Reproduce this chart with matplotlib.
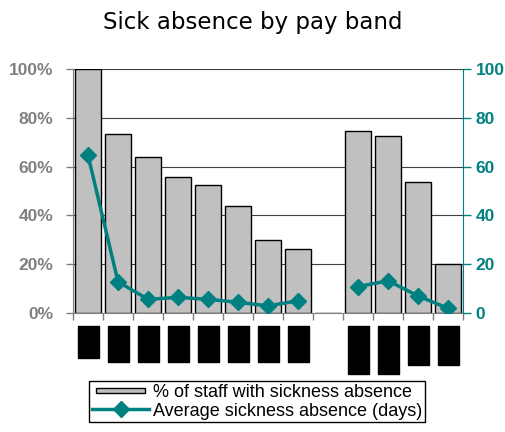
import numpy as np
import matplotlib.pyplot as plt
import matplotlib.transforms as mtransforms
from matplotlib.patches import Rectangle
from matplotlib.legend_handler import HandlerPatch

# valeurs (la 9e position est vide)
pct_staff = [100, 73.2, 64.1, 55.6, 52.3, 44.0, 30.0, 26.1, None, 74.7, 72.7, 53.7, 20.2]
avg_days = [64.6, 12.8, 5.6, 6.4, 5.6, 4.4, 2.9, 5.0, None, 10.8, 13.2, 7.0, 1.9]
# hauteur des etiquettes masquees (en fraction de l'axe)
label_heights = [0.131, 0.148, 0.148, 0.148, 0.148, 0.148, 0.148, 0.148, None, 0.197, 0.197, 0.16, 0.16]

left_ticks = [0, 20, 40, 60, 80, 100]
right_ticks = [0, 20, 40, 60, 80, 100]

teal = '#008080'
grey = '#808080'

x = np.arange(len(pct_staff))
pct = np.array([np.nan if v is None else v for v in pct_staff], dtype=float)
days = np.array([np.nan if v is None else v for v in avg_days], dtype=float)

fig = plt.figure(figsize=(5.05, 4.32), dpi=100)
ax = fig.add_axes([0.1446, 0.2755, 0.7723, 0.5648])

for y in left_ticks[1:]:
    ax.axhline(y, color='#404040', lw=0.8, zorder=0)

bars = ax.bar(x, np.nan_to_num(pct), width=0.85, color='#C0C0C0', edgecolor='black',
              linewidth=1.0, zorder=2, label='% of staff with sickness absence')

ax.set_xlim(-0.5, len(x) - 0.5)
ax.set_ylim(0, 100)
ax.set_yticks(left_ticks)
ax.set_yticklabels([f'{t}%' for t in left_ticks], fontsize=12.5, fontweight='bold',
                   color=grey, family='Liberation Sans')
ax.tick_params(axis='y', colors=grey, length=5, pad=9, width=1)
ax.set_xticks([])
ax.set_xticks(np.arange(-0.5, len(x)), minor=True)
ax.tick_params(axis='x', which='minor', length=5, color=grey, width=1)
for s in ['top', 'right']:
    ax.spines[s].set_visible(False)
ax.spines['left'].set_color(grey)
ax.spines['bottom'].set_color(grey)

ax2 = ax.twinx()
line, = ax2.plot(x, days, color=teal, lw=2.5, marker='D', markersize=8,
                 label='Average sickness absence (days)', zorder=3)
ax2.set_ylim(0, 100)
ax2.set_yticks(right_ticks)
ax2.set_yticklabels([str(t) for t in right_ticks], fontsize=12.5, fontweight='bold',
                    color=teal, family='Liberation Sans')
ax2.tick_params(axis='y', colors=teal, length=6, pad=3, width=1)
for s in ['top', 'left', 'bottom']:
    ax2.spines[s].set_visible(False)
ax2.spines['right'].set_color(teal)

# etiquettes de categories masquees (rectangles noirs)
trans = mtransforms.blended_transform_factory(ax.transData, ax.transAxes)
for xi, h in zip(x, label_heights):
    if h is None:
        continue
    ax.add_patch(Rectangle((xi - 0.35, -0.053 - h), 0.7, h, transform=trans,
                           color='black', clip_on=False))

fig.text(0.5, 1 - 29 / 432, 'Sick absence by pay band', ha='center', va='baseline', fontsize=16.5)


def thin_bar(legend, orig_handle, xdescent, ydescent, width, height, fontsize):
    return Rectangle((-xdescent + 0.08 * width, -ydescent + 0.3 * height), 0.84 * width, 0.38 * height)


leg = fig.legend([bars.patches[0], line], ['% of staff with sickness absence', 'Average sickness absence (days)'],
                 loc='upper left', bbox_to_anchor=(89 / 505, 1 - 381 / 432), borderaxespad=0,
                 prop={'family': 'Liberation Sans', 'size': 13},
                 handlelength=3.2, handletextpad=0.2, borderpad=0.15, labelspacing=0.1,
                 fancybox=False, framealpha=1, edgecolor='black',
                 handler_map={Rectangle: HandlerPatch(patch_func=thin_bar)})
leg.get_frame().set_linewidth(1)

fig.savefig('out.png', dpi=100)
